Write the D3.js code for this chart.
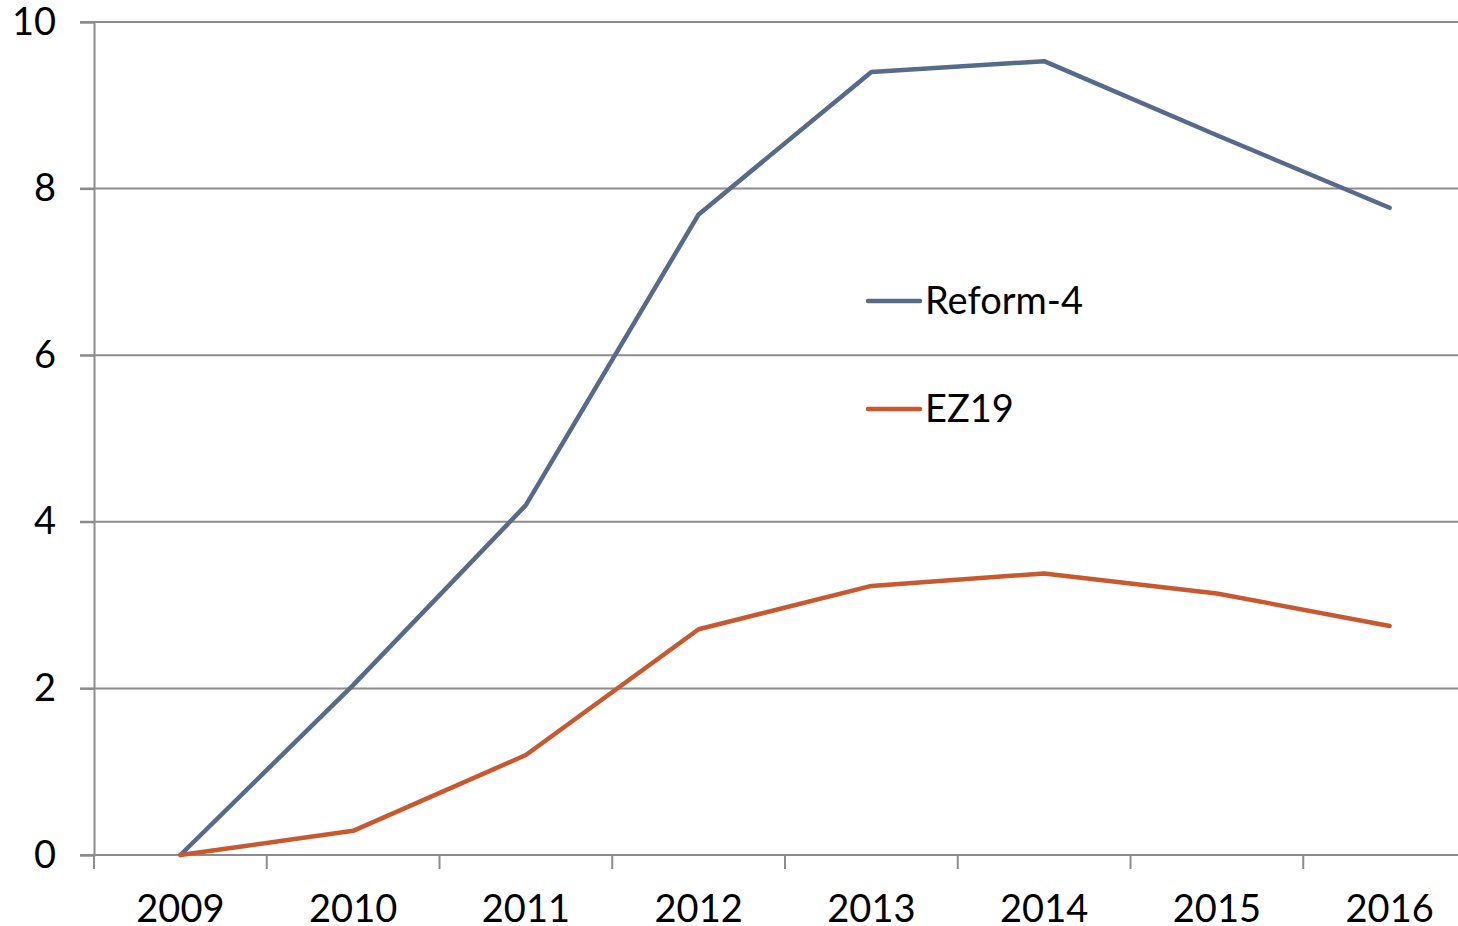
<!DOCTYPE html>
<html>
<head>
<meta charset="utf-8">
<script src="https://cdn.jsdelivr.net/npm/d3@7"></script>
<style>
  body { margin: 0; background: #fff; overflow: hidden; }
  text { font-family: Lato, "Open Sans", sans-serif; fill: #000; }
</style>
</head>
<body>
<div id="canvas"></div>
<script>
const w = 1458;
const h = 926;

const years = ["2009", "2010", "2011", "2012", "2013", "2014", "2015", "2016"];
const reform4 = [0, 2.04, 4.2, 7.69, 9.4, 9.53, 8.64, 7.77];
const ez19 = [0, 0.29, 1.2, 2.71, 3.23, 3.38, 3.14, 2.75];
const yTicks = [0, 2, 4, 6, 8, 10];
const seriesNames = ["Reform-4", "EZ19"];
const seriesColors = ["#566b89", "#c8582e"];

const padL = 94, padR = 1476, padT = 22, padB = 855;
const fontSize = 38;

let svg = d3.select("#canvas").append("svg").attr("width", w).attr("height", h);

let x = d3.scaleBand().domain(years).range([padL, padR]);
let y = d3.scaleLinear().domain([0, 10]).range([padB, padT]);

// gridlines
svg.append("g").selectAll("line").data(yTicks.filter(d => d > 0))
  .enter().append("line")
  .attr("x1", padL - 14).attr("x2", padR)
  .attr("y1", d => y(d)).attr("y2", d => y(d))
  .attr("stroke", "#8c8c8c").attr("stroke-width", 2);

// y axis
let yAxis = svg.append("g").attr("transform", "translate(" + padL + ",0)")
  .call(d3.axisLeft(y).tickValues(yTicks).tickSize(14).tickPadding(24).tickFormat(d3.format("d")));
yAxis.selectAll("path").attr("stroke", "#8c8c8c").attr("stroke-width", 2);
yAxis.selectAll("line").attr("stroke", "#8c8c8c").attr("stroke-width", 2);
yAxis.selectAll("text").attr("font-size", fontSize).attr("font-family", "Lato, sans-serif").attr("fill", "#000");

// x axis
let xAxis = svg.append("g").attr("transform", "translate(0," + padB + ")")
  .call(d3.axisBottom(x).tickSize(0).tickPadding(40));
xAxis.select("path").remove();
xAxis.selectAll("text").attr("font-size", fontSize).attr("font-family", "Lato, sans-serif").attr("fill", "#000");
svg.append("line").attr("x1", padL - 14).attr("x2", padR)
  .attr("y1", padB).attr("y2", padB)
  .attr("stroke", "#8c8c8c").attr("stroke-width", 2);
svg.append("g").selectAll("line").data(years)
  .enter().append("line")
  .attr("x1", d => x(d)).attr("x2", d => x(d))
  .attr("y1", padB).attr("y2", padB + 14)
  .attr("stroke", "#8c8c8c").attr("stroke-width", 2);

// lines
let line = d3.line().x((d, i) => x(years[i]) + x.bandwidth() / 2).y(d => y(d));
[reform4, ez19].forEach(function(s, i) {
  svg.append("path").datum(s)
    .attr("d", line)
    .attr("fill", "none")
    .attr("stroke", seriesColors[i])
    .attr("stroke-width", 4.5)
    .attr("stroke-linecap", "round")
    .attr("stroke-linejoin", "round");
});

// legend
let legend = svg.append("g").selectAll("g").data(seriesNames)
  .enter().append("g")
  .attr("transform", (d, i) => "translate(868," + (301 + i * 108) + ")");
legend.append("line").attr("x1", 0).attr("x2", 52)
  .attr("stroke", (d, i) => seriesColors[i]).attr("stroke-width", 4.5)
  .attr("stroke-linecap", "round");
legend.append("text").attr("x", 57).attr("dy", "0.35em")
  .attr("font-size", fontSize).text(d => d);
</script>
</body>
</html>
